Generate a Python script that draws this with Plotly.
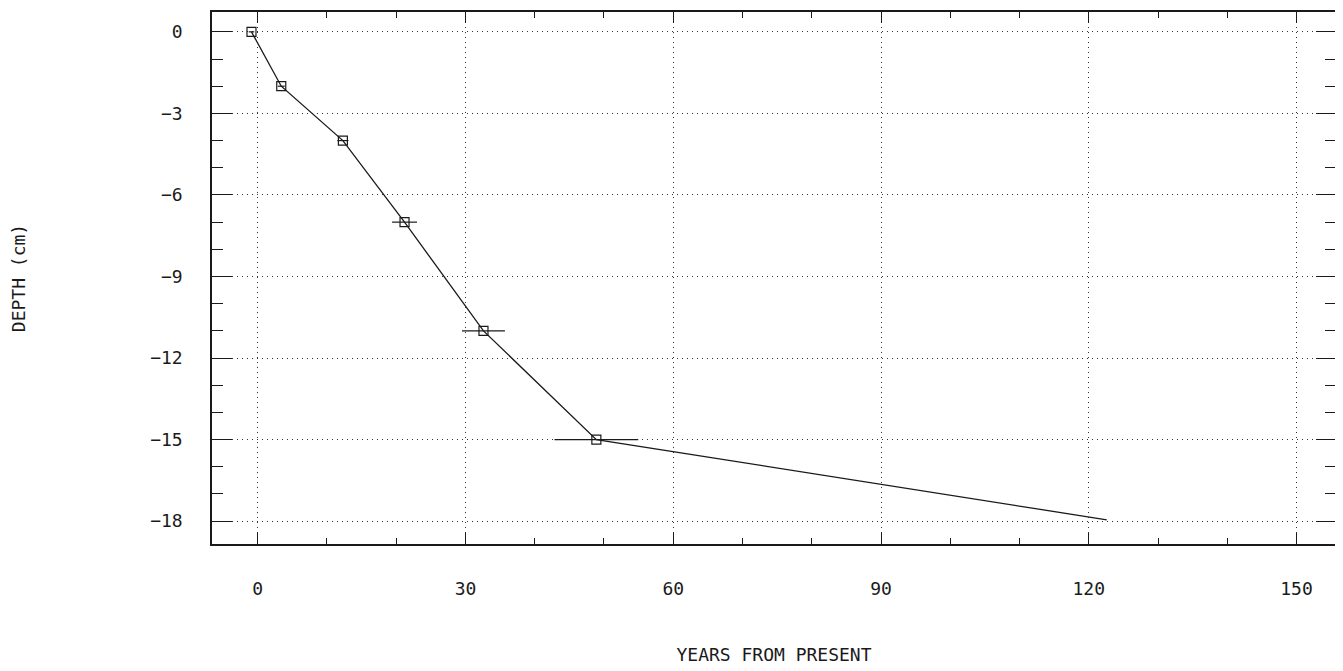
import plotly.graph_objects as go

# years from present vs depth, with dating uncertainty
years = [-0.9, 3.4, 12.3, 21.2, 32.6, 48.9, 122.6]
depth = [0, -2, -4, -7, -11, -15, -17.95]
years_err = [0.4, 0.5, 0.8, 1.8, 3.1, 6.05, 0]
show_marker = [True, True, True, True, True, True, False]

x_ticks = [0, 30, 60, 90, 120, 150]
y_ticks = [0, -3, -6, -9, -12, -15, -18]

FONT = "DejaVu Sans Mono"
INK = "#1a1a1a"

fig = go.Figure()

# connecting line
fig.add_trace(go.Scatter(
    x=years, y=depth, mode="lines",
    line=dict(color=INK, width=1.3),
    showlegend=False, hoverinfo="skip",
))

# dated samples with horizontal error bars
mx = [x for x, s in zip(years, show_marker) if s]
my = [y for y, s in zip(depth, show_marker) if s]
me = [e for e, s in zip(years_err, show_marker) if s]
fig.add_trace(go.Scatter(
    x=mx, y=my, mode="markers",
    marker=dict(symbol="square-open", size=9, color=INK, line=dict(width=1.2, color=INK)),
    error_x=dict(type="data", array=me, color=INK, thickness=1.2, width=0),
    showlegend=False,
))

axis_common = dict(
    showline=True, linecolor=INK, linewidth=1.5, mirror="ticks",
    ticks="inside", tickcolor=INK, tickwidth=1.3,
    showgrid=True, gridcolor="#333333", griddash="1px,4px", gridwidth=1.2,
    zeroline=False, automargin=False,
    tickfont=dict(family=FONT, size=18, color=INK),
)

fig.update_xaxes(
    **axis_common,
    range=[-6.6, 155.7], tickvals=x_ticks, ticklen=11,
    minor=dict(dtick=10, ticks="inside", ticklen=6, tickcolor=INK, showgrid=False),
    ticklabelstandoff=28,
    title=dict(text="YEARS FROM PRESENT", font=dict(family=FONT, size=18, color=INK), standoff=50),
)
fig.update_yaxes(
    **axis_common,
    range=[-18.84, 0.73], tickvals=y_ticks, ticklen=20,
    minor=dict(dtick=1, ticks="inside", ticklen=11, tickcolor=INK, showgrid=False),
    ticklabelstandoff=24,
    title=dict(text="DEPTH (cm)", font=dict(family=FONT, size=18, color=INK), standoff=120),
)

fig.update_layout(
    width=1343, height=671,
    margin=dict(l=204, r=15, t=4, b=135),
    plot_bgcolor="white", paper_bgcolor="white",
    font=dict(family=FONT, color=INK),
)

fig.write_html("out.html")
